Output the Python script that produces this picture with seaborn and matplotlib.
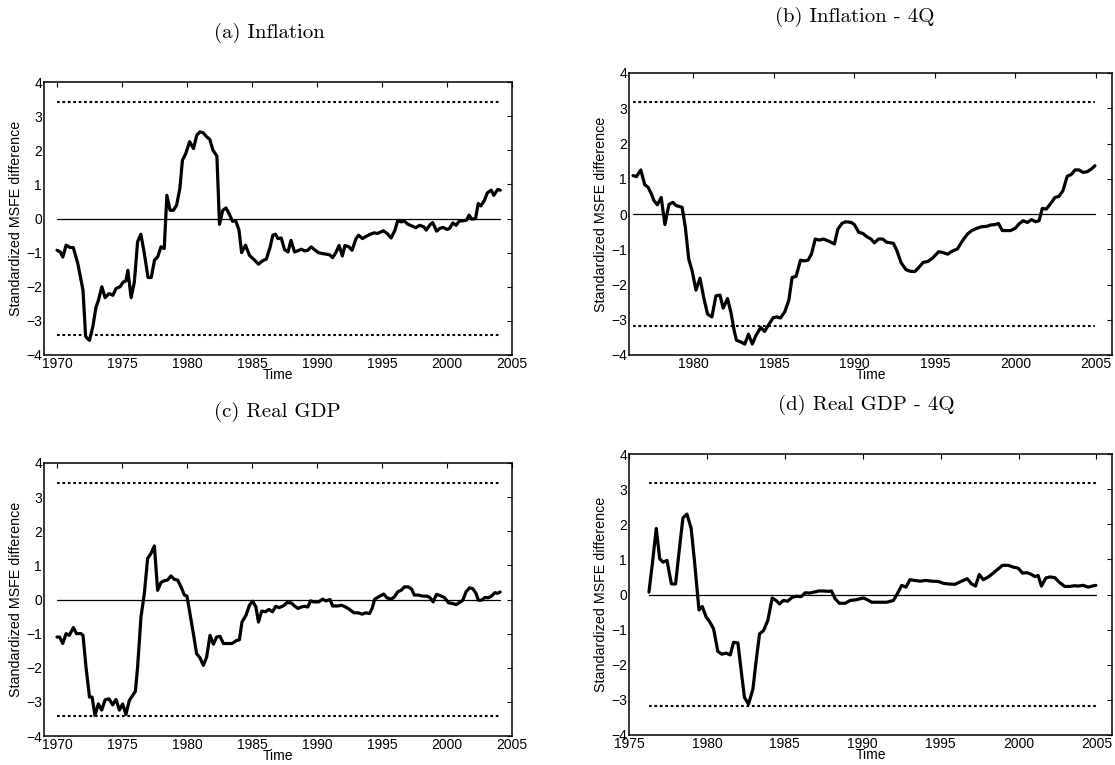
import matplotlib
matplotlib.use("Agg")
import matplotlib.pyplot as plt
import seaborn as sns
import numpy as np

# ---------------- data ----------------
titles = ["(a) Inflation", "(b) Inflation - 4Q", "(c) Real GDP", "(d) Real GDP - 4Q"]
ylabel_text = "Standardized MSFE difference"
xlabel_text = "Time"

# critical values (dotted bands)
crit_values = [3.40, 3.17, 3.40, 3.18]
x_limits = [(1969, 2005), (1976, 2006), (1969, 2005), (1975, 2006)]
x_ticks = [[1970, 1975, 1980, 1985, 1990, 1995, 2000, 2005],
           [1980, 1985, 1990, 1995, 2000, 2005],
           [1970, 1975, 1980, 1985, 1990, 1995, 2000, 2005],
           [1975, 1980, 1985, 1990, 1995, 2000, 2005]]
y_ticks = [-4, -3, -2, -1, 0, 1, 2, 3, 4]

# (a) Inflation
a_time = [1970.0, 1970.25, 1970.45, 1970.7, 1971.0, 1971.25, 1971.6, 1972.0, 1972.2, 1972.35,
          1972.5, 1972.75, 1973.0, 1973.2, 1973.45, 1973.7, 1974.0, 1974.3, 1974.55, 1974.85,
          1975.1, 1975.3, 1975.45, 1975.7, 1975.95, 1976.2, 1976.45, 1976.7, 1977.0, 1977.25,
          1977.5, 1977.75, 1978.0, 1978.25, 1978.45, 1978.7, 1978.95, 1979.2, 1979.45, 1979.65,
          1979.9, 1980.2, 1980.5, 1980.75, 1981.0, 1981.25, 1981.5, 1981.75, 1982.0, 1982.3,
          1982.5, 1982.75, 1983.0, 1983.25, 1983.5, 1983.75, 1984.0, 1984.2, 1984.5, 1984.8,
          1985.2, 1985.5, 1985.8, 1986.1, 1986.4, 1986.6, 1986.8, 1987.0, 1987.25, 1987.5,
          1987.77, 1988.0, 1988.27, 1988.5, 1988.8, 1989.05, 1989.3, 1989.55, 1989.8, 1990.1,
          1990.45, 1990.95, 1991.2, 1991.45, 1991.7, 1991.95, 1992.15, 1992.45, 1992.7, 1993.0,
          1993.2, 1993.5, 1993.7, 1994.1, 1994.4, 1994.65, 1995.1, 1995.4, 1995.7, 1996.0,
          1996.2, 1996.5, 1996.7, 1997.0, 1997.3, 1997.6, 1997.9, 1998.2, 1998.4, 1998.7,
          1998.9, 1999.2, 1999.45, 1999.7, 2000.0, 2000.2, 2000.45, 2000.7, 2000.95, 2001.2,
          2001.5, 2001.7, 2001.9, 2002.2, 2002.4, 2002.6, 2002.87, 2003.1, 2003.4, 2003.6,
          2003.9, 2004.1]
a_value = [-0.93, -0.98, -1.13, -0.78, -0.85, -0.85, -1.32, -2.10, -3.45, -3.52,
           -3.57, -3.18, -2.60, -2.38, -2.00, -2.32, -2.20, -2.25, -2.05, -2.00,
           -1.86, -1.83, -1.52, -2.32, -1.86, -0.68, -0.46, -0.98, -1.73, -1.73,
           -1.22, -1.12, -0.83, -0.88, 0.68, 0.24, 0.24, 0.39, 0.88, 1.71,
           1.90, 2.25, 2.05, 2.44, 2.54, 2.51, 2.40, 2.32, 2.00, 1.83,
           -0.17, 0.24, 0.31, 0.13, -0.08, -0.07, -0.34, -1.00, -0.78, -1.08,
           -1.22, -1.34, -1.24, -1.19, -0.83, -0.49, -0.46, -0.59, -0.57, -0.91,
           -0.98, -0.64, -0.98, -0.95, -0.90, -0.95, -0.93, -0.83, -0.91, -1.00,
           -1.03, -1.06, -1.15, -1.00, -0.79, -1.10, -0.79, -0.83, -0.93, -0.59,
           -0.49, -0.59, -0.54, -0.46, -0.42, -0.44, -0.36, -0.44, -0.57, -0.34,
           -0.07, -0.10, -0.07, -0.17, -0.22, -0.27, -0.20, -0.24, -0.34, -0.18,
           -0.12, -0.37, -0.29, -0.26, -0.32, -0.29, -0.13, -0.20, -0.07, -0.07,
           -0.05, 0.10, -0.02, 0.00, 0.44, 0.37, 0.52, 0.75, 0.83, 0.68,
           0.85, 0.83]

# (b) Inflation - 4Q
b_time = [1976.25, 1976.46, 1976.73, 1976.98, 1977.18, 1977.39, 1977.55, 1977.76, 1978.0, 1978.23,
          1978.48, 1978.72, 1978.93, 1979.14, 1979.3, 1979.5, 1979.71, 1979.92, 1980.16, 1980.41,
          1980.64, 1980.88, 1981.15, 1981.4, 1981.65, 1981.85, 1982.12, 1982.33, 1982.53, 1982.67,
          1982.94, 1983.19, 1983.42, 1983.66, 1983.87, 1984.18, 1984.42, 1984.69, 1984.96, 1985.2,
          1985.41, 1985.68, 1985.93, 1986.13, 1986.38, 1986.65, 1986.9, 1987.12, 1987.33, 1987.57,
          1987.82, 1988.09, 1988.45, 1988.76, 1988.97, 1989.24, 1989.48, 1989.8, 1990.0, 1990.27,
          1990.52, 1990.76, 1991.03, 1991.24, 1991.5, 1991.76, 1992.0, 1992.42, 1992.64, 1992.89,
          1993.2, 1993.5, 1993.76, 1994.03, 1994.28, 1994.55, 1994.86, 1995.23, 1995.47, 1995.79,
          1996.05, 1996.4, 1996.71, 1997.02, 1997.29, 1997.58, 1997.91, 1998.22, 1998.47, 1998.74,
          1998.95, 1999.19, 1999.44, 1999.71, 2000.0, 2000.23, 2000.48, 2000.74, 2001.01, 2001.26,
          2001.47, 2001.67, 2001.92, 2002.19, 2002.46, 2002.71, 2002.95, 2003.22, 2003.47, 2003.7,
          2003.95, 2004.21, 2004.46, 2004.73, 2004.94]
b_value = [1.09, 1.06, 1.25, 0.83, 0.76, 0.57, 0.38, 0.26, 0.47, -0.30,
           0.27, 0.33, 0.24, 0.21, 0.19, -0.38, -1.28, -1.61, -2.16, -1.82,
           -2.37, -2.84, -2.92, -2.32, -2.30, -2.67, -2.40, -2.79, -3.30, -3.58,
           -3.63, -3.69, -3.41, -3.69, -3.46, -3.22, -3.33, -3.13, -2.94, -2.92,
           -2.95, -2.77, -2.44, -1.80, -1.77, -1.31, -1.33, -1.31, -1.14, -0.71,
           -0.74, -0.71, -0.78, -0.85, -0.43, -0.26, -0.22, -0.24, -0.30, -0.52,
           -0.55, -0.64, -0.71, -0.82, -0.71, -0.71, -0.80, -0.83, -1.04, -1.37,
           -1.58, -1.63, -1.63, -1.50, -1.37, -1.35, -1.25, -1.07, -1.09, -1.14,
           -1.06, -0.99, -0.76, -0.57, -0.47, -0.41, -0.36, -0.35, -0.31, -0.30,
           -0.27, -0.47, -0.47, -0.47, -0.40, -0.28, -0.19, -0.24, -0.16, -0.22,
           -0.19, 0.16, 0.14, 0.30, 0.47, 0.50, 0.66, 1.07, 1.12, 1.25,
           1.25, 1.18, 1.20, 1.28, 1.37]

# (c) Real GDP
c_time = [1970.0, 1970.2, 1970.44, 1970.7, 1970.95, 1971.26, 1971.5, 1971.85, 1972.0, 1972.23,
          1972.5, 1972.7, 1972.92, 1973.18, 1973.44, 1973.7, 1974.0, 1974.28, 1974.54, 1974.8,
          1975.05, 1975.3, 1975.56, 1975.82, 1976.03, 1976.2, 1976.46, 1976.72, 1976.97, 1977.23,
          1977.49, 1977.74, 1978.0, 1978.26, 1978.5, 1978.77, 1979.03, 1979.28, 1979.54, 1979.8,
          1980.0, 1980.23, 1980.49, 1980.74, 1981.0, 1981.26, 1981.51, 1981.77, 1982.03, 1982.28,
          1982.54, 1982.8, 1983.13, 1983.46, 1983.82, 1984.03, 1984.23, 1984.54, 1984.8, 1985.05,
          1985.3, 1985.5, 1985.75, 1986.03, 1986.3, 1986.57, 1986.83, 1987.08, 1987.39, 1987.7,
          1988.02, 1988.27, 1988.53, 1988.78, 1989.04, 1989.29, 1989.5, 1989.75, 1990.13, 1990.43,
          1990.69, 1991.0, 1991.2, 1991.57, 1991.9, 1992.2, 1992.5, 1992.84, 1993.17, 1993.48,
          1993.73, 1994.04, 1994.24, 1994.44, 1994.75, 1995.13, 1995.38, 1995.71, 1995.96, 1996.22,
          1996.47, 1996.73, 1997.03, 1997.28, 1997.49, 1997.79, 1998.1, 1998.43, 1998.68, 1998.93,
          1999.19, 1999.52, 1999.82, 2000.13, 2000.46, 2000.71, 2000.96, 2001.22, 2001.47, 2001.73,
          2001.98, 2002.23, 2002.41, 2002.66, 2002.92, 2003.17, 2003.43, 2003.68, 2003.88, 2004.09]
c_value = [-1.10, -1.10, -1.29, -1.00, -1.05, -0.82, -1.00, -1.00, -1.05, -1.98,
           -2.86, -2.86, -3.40, -3.06, -3.24, -2.94, -2.91, -3.09, -2.93, -3.24,
           -3.06, -3.37, -2.96, -2.81, -2.69, -1.98, -0.51, 0.18, 1.20, 1.35,
           1.57, 0.27, 0.50, 0.55, 0.57, 0.69, 0.59, 0.57, 0.37, 0.13,
           0.10, -0.41, -1.00, -1.59, -1.71, -1.93, -1.69, -1.05, -1.31, -1.10,
           -1.08, -1.29, -1.29, -1.29, -1.20, -1.18, -0.66, -0.46, -0.17, -0.05,
           -0.22, -0.66, -0.34, -0.36, -0.29, -0.36, -0.20, -0.24, -0.19, -0.09,
           -0.10, -0.19, -0.26, -0.22, -0.20, -0.22, -0.04, -0.07, -0.07, 0.01,
           -0.04, 0.00, -0.19, -0.19, -0.17, -0.22, -0.29, -0.39, -0.39, -0.43,
           -0.39, -0.41, -0.26, 0.01, 0.08, 0.16, 0.05, 0.01, 0.08, 0.23,
           0.27, 0.37, 0.37, 0.30, 0.13, 0.13, 0.10, 0.10, 0.06, -0.07,
           0.15, 0.11, 0.05, -0.10, -0.12, -0.15, -0.09, -0.02, 0.23, 0.34,
           0.32, 0.18, -0.02, -0.02, 0.06, 0.05, 0.10, 0.20, 0.18, 0.22]

# (d) Real GDP - 4Q
d_time = [1976.28, 1976.5, 1976.75, 1976.97, 1977.18, 1977.44, 1977.72, 1977.99, 1978.2, 1978.46,
          1978.72, 1978.99, 1979.21, 1979.49, 1979.7, 1979.96, 1980.17, 1980.43, 1980.7, 1980.96,
          1981.24, 1981.5, 1981.71, 1981.99, 1982.2, 1982.41, 1982.67, 1982.95, 1983.16, 1983.38,
          1983.63, 1983.91, 1984.19, 1984.44, 1984.66, 1984.91, 1985.19, 1985.47, 1985.73, 1986.05,
          1986.32, 1986.58, 1986.9, 1987.18, 1987.44, 1987.82, 1988.0, 1988.23, 1988.5, 1988.87,
          1989.19, 1989.57, 1990.04, 1990.26, 1990.58, 1991.0, 1991.54, 1991.97, 1992.22, 1992.5,
          1992.78, 1993.03, 1993.35, 1993.68, 1994.06, 1994.42, 1994.85, 1995.17, 1995.49, 1995.92,
          1996.35, 1996.71, 1996.99, 1997.24, 1997.48, 1997.74, 1998.06, 1998.38, 1998.7, 1998.97,
          1999.34, 1999.66, 1999.98, 2000.26, 2000.56, 2000.83, 2001.05, 2001.26, 2001.47, 2001.75,
          2002.01, 2002.33, 2002.61, 2002.97, 2003.29, 2003.61, 2003.82, 2004.15, 2004.47, 2004.74,
          2004.96]
d_value = [0.07, 0.88, 1.88, 1.02, 0.92, 0.97, 0.30, 0.30, 1.16, 2.18,
           2.29, 1.88, 0.92, -0.44, -0.34, -0.65, -0.77, -0.98, -1.62, -1.70,
           -1.67, -1.72, -1.36, -1.38, -2.17, -2.93, -3.12, -2.70, -1.89, -1.12,
           -1.03, -0.74, -0.10, -0.17, -0.27, -0.17, -0.19, -0.08, -0.05, -0.06,
           0.05, 0.04, 0.07, 0.10, 0.10, 0.09, 0.10, -0.12, -0.25, -0.25,
           -0.17, -0.15, -0.10, -0.14, -0.22, -0.22, -0.22, -0.17, 0.02, 0.26,
           0.21, 0.42, 0.40, 0.38, 0.40, 0.38, 0.37, 0.32, 0.30, 0.29,
           0.38, 0.45, 0.30, 0.24, 0.57, 0.42, 0.50, 0.61, 0.73, 0.83,
           0.83, 0.78, 0.75, 0.61, 0.62, 0.57, 0.51, 0.54, 0.24, 0.47,
           0.50, 0.48, 0.35, 0.23, 0.23, 0.25, 0.24, 0.26, 0.21, 0.24,
           0.26]

series = [(a_time, a_value), (b_time, b_value), (c_time, c_value), (d_time, d_value)]

# ---------------- style ----------------
sns.set_theme(style="white")
plt.rcParams["font.family"] = ["Liberation Sans", "DejaVu Sans"]
plt.rcParams["axes.unicode_minus"] = True

W, H = 1115, 765
fig = plt.figure(figsize=(W / 100, H / 100), dpi=100)
fig.patch.set_facecolor("white")

# axes boxes in pixels: left, top, right, bottom
boxes = [(44, 82, 512, 355), (629, 73, 1112, 355),
         (44, 463, 512, 736), (629, 454, 1112, 735)]
title_pos = [(269, 33), (855, 17), (277, 412), (866, 405)]

for i, (box, (t, v)) in enumerate(zip(boxes, series)):
    l, tp, r, b = box
    ax = fig.add_axes([l / W, 1 - b / H, (r - l) / W, (b - tp) / H])
    ax.set_facecolor("white")
    t0, t1 = t[0], t[-1]
    cv = crit_values[i]
    # reference lines
    sns.lineplot(x=[t0, t1], y=[0, 0], ax=ax, color="black", linewidth=0.9)
    sns.lineplot(x=[t0, t1], y=[cv, cv], ax=ax, color="black", linewidth=1.5,
                 linestyle=(0, (1.3, 1.3)))
    sns.lineplot(x=[t0, t1], y=[-cv, -cv], ax=ax, color="black", linewidth=1.5,
                 linestyle=(0, (1.3, 1.3)))
    # series
    sns.lineplot(x=t, y=v, ax=ax, color="black", linewidth=2.3, sort=False)

    ax.set_xlim(*x_limits[i])
    ax.set_ylim(-4, 4)
    ax.set_xticks(x_ticks[i])
    ax.set_yticks(y_ticks)
    ax.tick_params(direction="in", length=3.5, width=0.8, top=True, right=True,
                   labelsize=10, pad=1.5, colors="black")
    for s in ax.spines.values():
        s.set_visible(True)
        s.set_color("black")
        s.set_linewidth(1.1)
    ax.set_ylabel(ylabel_text, fontsize=10.3, color="black")
    ax.yaxis.set_label_coords(-21 / (r - l), 0.5)
    ax.set_xlabel(xlabel_text, fontsize=10, color="black", labelpad=-2.5)
    ax.grid(False)

    fig.text(title_pos[i][0] / W, 1 - title_pos[i][1] / H, titles[i],
             ha="center", va="center", fontsize=15, family="cmr10", color="black")

fig.savefig("out.png", dpi=100, facecolor="white")
